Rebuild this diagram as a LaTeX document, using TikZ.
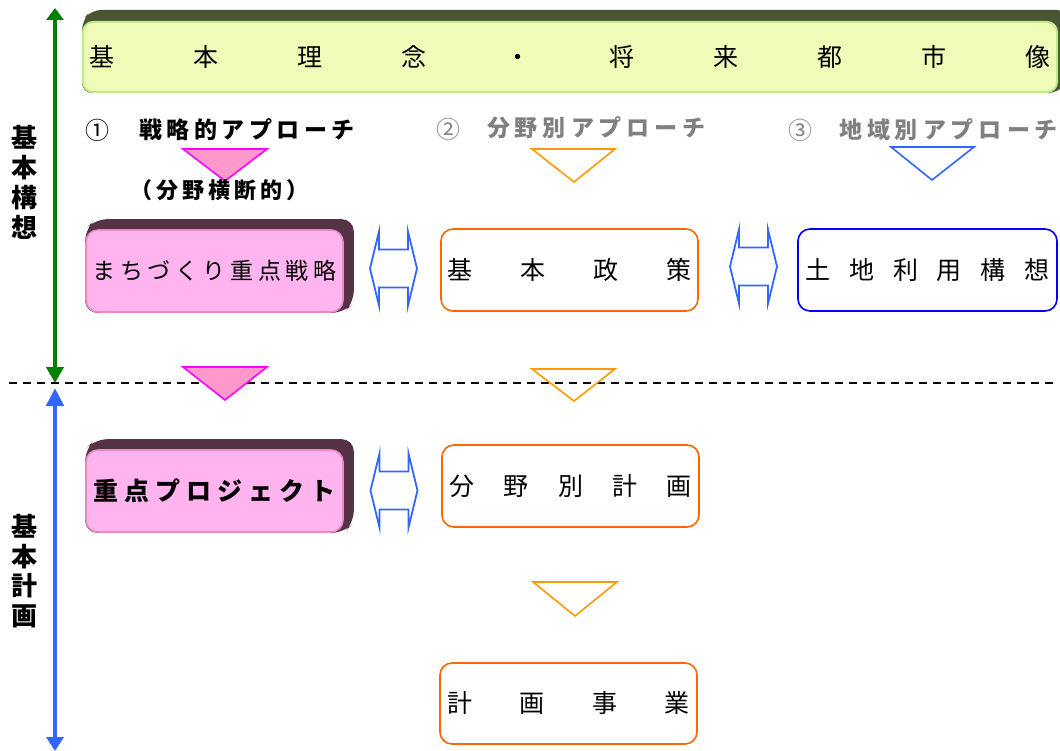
\documentclass[tikz,border=0pt]{standalone}
\usepackage{fontspec}
\setmainfont{Noto Sans CJK JP}
\usetikzlibrary{arrows.meta,backgrounds}
\definecolor{bannerfill}{RGB}{240,251,184}
\definecolor{bannerline}{RGB}{190,235,140}
\definecolor{bannershadow}{RGB}{72,86,52}
\definecolor{pinkfill}{RGB}{255,180,240}
\definecolor{pinkline}{RGB}{235,140,190}
\definecolor{pinkshadow}{RGB}{85,50,70}
\definecolor{trifill}{RGB}{255,153,204}
\definecolor{triline}{RGB}{255,0,255}
\definecolor{orangeline}{RGB}{255,102,0}
\definecolor{orangetriC}{RGB}{255,153,0}
\definecolor{blueC}{RGB}{51,102,255}
\definecolor{pureblue}{RGB}{0,0,255}
\definecolor{greenC}{RGB}{0,128,0}
\definecolor{grayC}{RGB}{128,128,128}
\newcommand\myfs[1]{\fontsize{#1}{#1}\selectfont}
\def\sprloop#1{\ifx#1\relax\else#1\expandafter\sprnext\fi}
\def\sprnext#1{\ifx#1\relax\else\hfill#1\expandafter\sprnext\fi}
\newcommand\myspread[2]{\makebox[#1][s]{\sprloop#2\relax}}
\begin{document}
\begin{tikzpicture}[x=1pt,y=-1pt,
  boxbase/.style={rounded corners=12pt, line width=1.6pt, minimum width=257pt, minimum height=82pt, inner sep=0pt},
  orangebox/.style={boxbase, draw=orangeline, fill=white},
  bluebox/.style={boxbase, draw=pureblue, fill=white},
  pinkbox/.style={boxbase, draw=pinkline, fill=pinkfill},
  bannerbox/.style={rounded corners=10pt, line width=2pt, draw=bannerline, fill=bannerfill, minimum width=974pt, minimum height=70pt, inner sep=0pt},
  pinktri/.style={draw=triline, fill=trifill, line width=1.6pt, line join=miter},
  orangetri/.style={draw=orangetriC, line width=1.6pt, line join=miter},
  bluetri/.style={draw=blueC, line width=1.6pt, line join=miter},
  vlabel/.style={align=center, inner sep=0pt},
  dbl/.pic={\draw[blueC, line width=1.8pt, line join=miter] (-23.5,0) -- (-14.5,-37) -- (-14.5,-19) -- (14.5,-19) -- (14.5,-37) -- (23.5,0) -- (14.5,37) -- (14.5,19) -- (-14.5,19) -- (-14.5,37) -- cycle;}
]
\useasboundingbox (0,0) rectangle (1060,751);

% banner
\node[bannerbox] (banner) at (570,57) {\myfs{25}\myspread{961pt}{基本理念・将来都市像}};
\begin{scope}[on background layer]
\fill[bannershadow, rounded corners=10pt] (banner.south west) -- (banner.north west) -- ++(9,-11) -| ([shift={(9,-11)}]banner.south east) -- (banner.south east) -- cycle;
\end{scope}

% left axis arrows
\coordinate (gtop) at (55,8);
\coordinate (gbot) at (55,383);
\coordinate (btop) at (55,388);
\coordinate (bbot) at (55,751);
\draw[greenC, line width=4.5pt, {Triangle[width=17pt,length=16pt]}-{Triangle[width=17pt,length=12pt]}] (gbot) -- (gtop);
\draw[blueC, line width=4.5pt, {Triangle[width=17pt,length=18pt]}-{Triangle[width=17pt,length=14pt]}] (btop) -- (bbot);
\node[vlabel, font={\bfseries\fontsize{26}{30}\selectfont}] (lab1) at (25,182) {基\\本\\構\\想};
\node[vlabel, font={\bfseries\fontsize{26}{29.5}\selectfont}] (lab2) at (25,571) {基\\本\\計\\画};

% dashed divider
\coordinate (dl) at (9,383);
\coordinate (dr) at (1056,383);
\draw[line width=1.5pt, dash pattern=on 8pt off 6pt] (dl) -- (dr);

% approach headings
\node[inner sep=0pt] (c1) at (97,130) {\myfs{24}①};
\node[inner sep=0pt] (a1) at (247,130) {\bfseries\myfs{23}\myspread{216pt}{戦略的アプローチ}};
\node[inner sep=0pt, text=grayC] (c2) at (448,129) {\myfs{24}②};
\node[inner sep=0pt, text=grayC] (a2) at (596.5,128) {\bfseries\myfs{23}\myspread{219pt}{分野別アプローチ}};
\node[inner sep=0pt, text=grayC] (c3) at (800,130) {\myfs{24}③};
\node[inner sep=0pt, text=grayC] (a3) at (948.5,130) {\bfseries\myfs{23}\myspread{219pt}{地域別アプローチ}};

% triangles
\draw[pinktri] (183,149) -- (267,149) -- (225,181) -- cycle;
\draw[orangetri] (532,149) -- (615,149) -- (574,182) -- cycle;
\draw[bluetri] (891,147) -- (974,147) -- (932,180) -- cycle;
\node[inner sep=0pt] (a1sub) at (219.5,190) {\bfseries\myfs{22}\myspread{178pt}{（分野横断的）}};

% row 1
\node[pinkbox] (machi) at (214.5,271) {\myfs{23}\myspread{244pt}{まちづくり重点戦略}};
\begin{scope}[on background layer]
\fill[pinkshadow, rounded corners=12pt] (machi.south west) -- (machi.north west) -- ++(10,-10) -| ([shift={(10,-10)}]machi.south east) -- (machi.south east) -- cycle;
\end{scope}
\node[orangebox] (seisaku) at (569.5,270) {\myfs{25}\myspread{244pt}{基本政策}};
\node[bluebox, minimum width=259pt] (tochi) at (927.5,270) {\myfs{25}\myspread{244pt}{土地利用構想}};
\pic at (393.5,268.5) {dbl};
\pic at (753.5,266.5) {dbl};

% transition triangles
\draw[pinktri] (183,367) -- (267,367) -- (225,400) -- cycle;
\draw[orangetri] (532,369) -- (615,369) -- (574,401) -- cycle;

% row 2
\node[pinkbox] (juten) at (214.5,491) {\bfseries\myfs{25}\myspread{242pt}{重点プロジェクト}};
\begin{scope}[on background layer]
\fill[pinkshadow, rounded corners=12pt] (juten.south west) -- (juten.north west) -- ++(10,-10) -| ([shift={(10,-10)}]juten.south east) -- (juten.south east) -- cycle;
\end{scope}
\node[orangebox] (bunya) at (570.5,486) {\myfs{25}\myspread{242pt}{分野別計画}};
\pic at (394,490.5) {dbl};

\draw[orangetri] (533,582) -- (617,582) -- (575,616) -- cycle;

% row 3
\node[orangebox, minimum height=81pt] (jigyo) at (568.5,703.5) {\myfs{25}\myspread{242pt}{計画事業}};
\end{tikzpicture}
\end{document}
